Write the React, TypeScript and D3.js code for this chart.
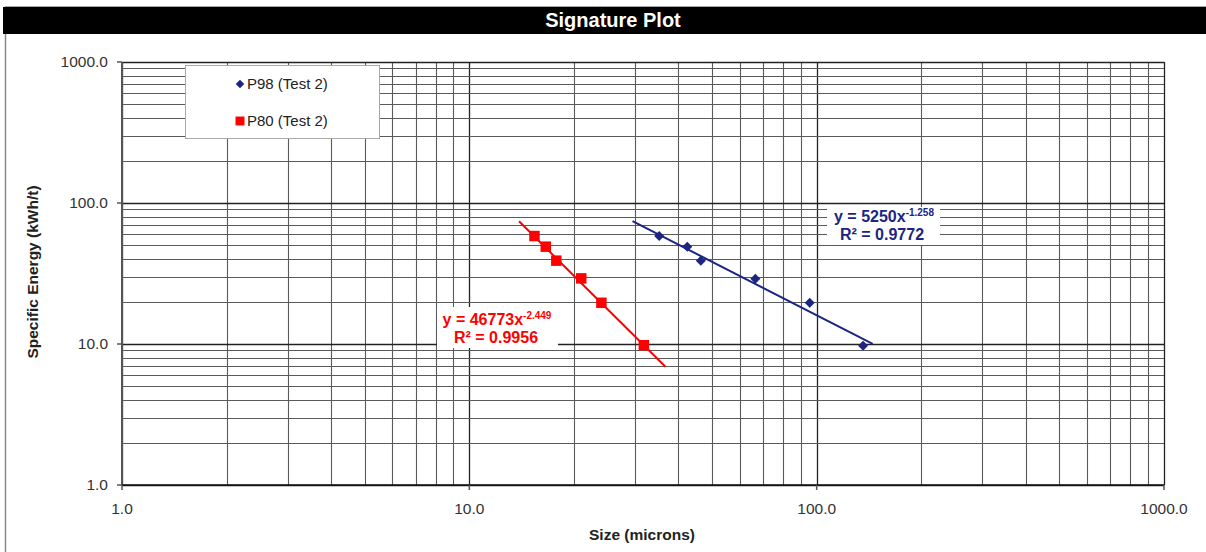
import React from "react";
import * as d3 from "d3";

const titleText = "Signature Plot";
const xTitle = "Size (microns)";
const yTitle = "Specific Energy (kWh/t)";
const decadeTicks = [1, 10, 100, 1000];

const p98Label = "P98 (Test 2)";
const p98Size = [35.2, 42.4, 46.4, 66.6, 95.5, 136];
const p98Energy = [58.3, 49.0, 39.0, 29.0, 19.6, 9.7];
const p98Fit = { a: 5250, b: -1.258, from: 29.5, to: 145, coef: "5250", exp: "-1.258", r2: "0.9772" };

const p80Label = "P80 (Test 2)";
const p80Size = [15.4, 16.6, 17.8, 21.0, 24.0, 31.8];
const p80Energy = [58.3, 49.0, 39.0, 29.2, 19.6, 9.8];
const p80Fit = { a: 46773, b: -2.449, from: 13.9, to: 36.7, coef: "46773", exp: "-2.449", r2: "0.9956" };

const W = 1206;
const H = 552;
const L = 122, R = 1164, T = 62, B = 485;
const BLUE = "#1c2583";
const RED = "#ff0000";
const FONT = "'Liberation Sans', Arial, sans-serif";

function minorValues(): number[] {
  const out: number[] = [];
  for (let k = 0; k < 3; k++) {
    for (let m = 1; m <= 9; m++) out.push(m * Math.pow(10, k));
  }
  out.push(1000);
  return out;
}

export default function App() {
  const x = d3.scaleLog().domain([1, 1000]).range([L, R]);
  const y = d3.scaleLog().domain([1, 1000]).range([B, T]);
  const grid = minorValues();
  const fmt = d3.format(".1f");
  const isMajor = (v: number) => decadeTicks.some((d) => Math.abs(d - v) < 1e-9);
  const px = (v: number) => Math.round(v) + 0.5;

  const fitLine = (f: { a: number; b: number; from: number; to: number }) => {
    const pts: [number, number][] = [f.from, f.to].map((s) => [s, f.a * Math.pow(s, f.b)]);
    return d3.line<[number, number]>().x((d) => x(d[0])).y((d) => y(d[1]))(pts) || "";
  };

  const diamond = d3.symbol().type(d3.symbolSquare).size(50)() || "";
  const square = d3.symbol().type(d3.symbolSquare).size(110)() || "";
  const legendDiamond = d3.symbol().type(d3.symbolSquare).size(36)() || "";
  const legendSquare = d3.symbol().type(d3.symbolSquare).size(80)() || "";

  return (
    <svg
      width={W}
      height={H}
      style={{ position: "absolute", left: 0, top: 0, background: "#fff" }}
      fontFamily={FONT}
    >
      <rect x={0} y={0} width={W} height={H} fill="#fff" />
      <rect x={5.5} y={7} width={W + 10} height={H + 10} fill="#fff" stroke="#888" strokeWidth={1.5} />
      <rect x={3} y={7} width={W - 3} height={27} fill="#000" />
      <text x={613} y={27} textAnchor="middle" fill="#fff" fontSize={20} fontWeight="bold">
        {titleText}
      </text>

      {/* gridlines */}
      {grid.map((v) => (
        <line
          key={"gx" + v}
          x1={px(x(v))}
          x2={px(x(v))}
          y1={T}
          y2={B}
          stroke={isMajor(v) ? "#222" : "#5a5a5a"}
          strokeWidth={isMajor(v) ? 1.3 : 1.1}
        />
      ))}
      {grid.map((v) => (
        <line
          key={"gy" + v}
          x1={L}
          x2={R}
          y1={px(y(v))}
          y2={px(y(v))}
          stroke={isMajor(v) ? "#222" : "#5a5a5a"}
          strokeWidth={isMajor(v) ? 1.3 : 1.1}
        />
      ))}

      {/* axes */}
      <line x1={L} x2={L} y1={T} y2={B} stroke="#555" strokeWidth={2} />
      <line x1={L} x2={R} y1={B} y2={B} stroke="#111" strokeWidth={1.5} />
      {decadeTicks.map((v) => (
        <g key={"ty" + v}>
          <line x1={L - 5} x2={L} y1={y(v)} y2={y(v)} stroke="#555" strokeWidth={1.5} />
          <text x={108} y={y(v)} dy="0.35em" textAnchor="end" fontSize={15.5} fill="#333">
            {fmt(v)}
          </text>
        </g>
      ))}
      {decadeTicks.map((v) => (
        <g key={"tx" + v}>
          <line x1={x(v)} x2={x(v)} y1={B} y2={B + 5} stroke="#555" strokeWidth={1.5} />
          <text x={x(v)} y={509} dy="0.35em" textAnchor="middle" fontSize={15.5} fill="#333">
            {fmt(v)}
          </text>
        </g>
      ))}
      <text x={642} y={535} dy="0.35em" textAnchor="middle" fontSize={15.5} fontWeight="bold" fill="#222">
        {xTitle}
      </text>
      <text
        transform={`translate(33,272) rotate(-90)`}
        dy="0.35em"
        textAnchor="middle"
        fontSize={15.5}
        fontWeight="bold"
        fill="#222"
      >
        {yTitle}
      </text>

      {/* trend lines */}
      <path d={fitLine(p80Fit)} stroke={RED} strokeWidth={2} fill="none" />
      <path d={fitLine(p98Fit)} stroke={BLUE} strokeWidth={2} fill="none" />

      {/* points */}
      {p80Size.map((s, i) => (
        <path key={"r" + i} d={square} transform={`translate(${x(s)},${y(p80Energy[i])})`} fill={RED} />
      ))}
      {p98Size.map((s, i) => (
        <path
          key={"b" + i}
          d={diamond}
          transform={`translate(${x(s)},${y(p98Energy[i])}) rotate(45)`}
          fill={BLUE}
        />
      ))}

      {/* equations */}
      <g>
        <rect x={437} y={307} width={121} height={41} fill="#fff" />
        <text x={497} y={325} textAnchor="middle" fontSize={16} fontWeight="bold" fill={RED}>
          {"y = " + p80Fit.coef + "x"}
          <tspan fontSize={10} dy={-6}>{p80Fit.exp}</tspan>
        </text>
        <text x={496} y={343} textAnchor="middle" fontSize={16} fontWeight="bold" fill={RED}>
          {"R² = " + p80Fit.r2}
        </text>
      </g>
      <g>
        <rect x={827} y={207} width={113} height={38} fill="#fff" />
        <text x={884} y={222} textAnchor="middle" fontSize={16} fontWeight="bold" fill={BLUE}>
          {"y = " + p98Fit.coef + "x"}
          <tspan fontSize={10} dy={-6}>{p98Fit.exp}</tspan>
        </text>
        <text x={882} y={240} textAnchor="middle" fontSize={16} fontWeight="bold" fill={BLUE}>
          {"R² = " + p98Fit.r2}
        </text>
      </g>

      {/* legend */}
      <rect x={185.5} y={65.5} width={194} height={73} fill="#fff" stroke="#aaa" strokeWidth={1} />
      <path d={legendDiamond} transform="translate(240,84) rotate(45)" fill={BLUE} />
      <text x={247} y={84} dy="0.35em" fontSize={15} fill="#222">{p98Label}</text>
      <path d={legendSquare} transform="translate(240,121)" fill={RED} />
      <text x={247} y={121} dy="0.35em" fontSize={15} fill="#222">{p80Label}</text>
    </svg>
  );
}
